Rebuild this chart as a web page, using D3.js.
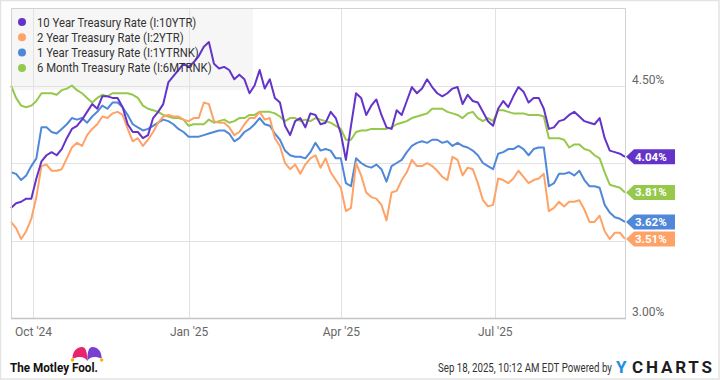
<!DOCTYPE html>
<html><head><meta charset="utf-8">
<script src="https://cdn.jsdelivr.net/npm/d3@7"></script>
<style>html,body{margin:0;padding:0;background:#fff;} svg{display:block;font-family:Roboto,"Noto Sans",sans-serif;}</style>
</head><body><svg id="c" width="720" height="380"></svg>
<script>
// ---------- data ----------
const startDate = "2024-09-18";
const endDate = "2025-09-16";
const stepDays = 3;
const seriesNames = ["10 Year Treasury Rate (I:10YTR)", "2 Year Treasury Rate (I:2YTR)", "1 Year Treasury Rate (I:1YTRNK)", "6 Month Treasury Rate (I:6MTRNK)"];
const tenYear = [3.71,3.74,3.75,3.77,3.77,3.90,4.01,4.05,4.07,4.05,4.09,4.16,4.22,4.24,4.28,4.33,4.38,4.35,4.43,4.43,4.42,4.42,4.36,4.25,4.20,4.20,4.16,4.18,4.29,4.33,4.38,4.52,4.56,4.60,4.64,4.62,4.65,4.69,4.75,4.78,4.64,4.61,4.62,4.60,4.54,4.57,4.54,4.45,4.50,4.60,4.48,4.54,4.42,4.39,4.24,4.18,4.27,4.29,4.23,4.32,4.31,4.25,4.26,4.33,4.29,4.19,4.02,4.24,4.45,4.42,4.31,4.37,4.41,4.31,4.23,4.22,4.34,4.31,4.40,4.49,4.45,4.48,4.54,4.49,4.45,4.43,4.45,4.48,4.49,4.38,4.44,4.40,4.39,4.33,4.27,4.24,4.35,4.40,4.36,4.43,4.49,4.46,4.39,4.42,4.42,4.35,4.22,4.23,4.27,4.28,4.31,4.33,4.30,4.27,4.26,4.25,4.29,4.16,4.08,4.07,4.06,4.04];
const twoYear = [3.62,3.58,3.51,3.56,3.64,3.78,3.98,3.99,3.95,3.95,3.96,4.03,4.10,4.13,4.11,4.18,4.22,4.25,4.30,4.29,4.32,4.33,4.31,4.22,4.14,4.16,4.11,4.15,4.20,4.26,4.30,4.31,4.30,4.30,4.28,4.27,4.29,4.29,4.39,4.38,4.27,4.26,4.26,4.23,4.18,4.20,4.25,4.29,4.29,4.33,4.28,4.29,4.16,4.11,4.00,3.96,3.99,3.93,3.99,4.03,4.05,3.97,4.03,3.94,3.89,3.84,3.69,3.71,4.00,3.92,3.81,3.78,3.77,3.73,3.63,3.81,3.82,3.89,3.94,4.02,3.98,3.98,4.00,3.98,3.95,3.91,3.89,4.04,4.02,3.92,3.97,3.96,3.87,3.76,3.72,3.73,3.90,3.89,3.87,3.90,3.95,3.91,3.87,3.89,3.90,3.93,3.69,3.71,3.75,3.72,3.75,3.75,3.76,3.70,3.62,3.62,3.66,3.56,3.51,3.55,3.55,3.51];
const oneYear = [3.94,3.93,3.89,3.92,3.98,4.03,4.23,4.23,4.20,4.19,4.22,4.25,4.29,4.28,4.29,4.26,4.30,4.33,4.37,4.35,4.39,4.39,4.36,4.31,4.25,4.23,4.21,4.22,4.24,4.26,4.28,4.27,4.25,4.22,4.20,4.17,4.17,4.17,4.18,4.19,4.20,4.21,4.21,4.19,4.14,4.16,4.20,4.22,4.25,4.29,4.25,4.24,4.19,4.15,4.08,4.05,4.04,4.04,4.03,4.07,4.13,4.08,4.09,4.08,4.03,4.03,3.87,3.85,4.03,4.00,3.98,3.97,3.99,3.96,3.88,3.98,4.00,4.02,4.07,4.11,4.13,4.14,4.13,4.15,4.15,4.13,4.14,4.11,4.13,4.11,4.10,4.08,4.05,4.00,3.98,3.96,4.06,4.07,4.09,4.09,4.11,4.09,4.05,4.09,4.10,4.10,3.85,3.87,3.93,3.93,3.94,3.92,3.95,3.89,3.85,3.85,3.84,3.73,3.68,3.65,3.64,3.62];
const sixMonth = [4.50,4.42,4.37,4.36,4.37,4.40,4.45,4.45,4.45,4.44,4.47,4.48,4.50,4.47,4.45,4.42,4.39,4.42,4.44,4.43,4.45,4.45,4.45,4.45,4.44,4.42,4.37,4.35,4.34,4.33,4.31,4.30,4.29,4.29,4.28,4.24,4.25,4.25,4.25,4.28,4.26,4.27,4.28,4.26,4.27,4.29,4.29,4.31,4.31,4.33,4.33,4.33,4.32,4.30,4.27,4.29,4.29,4.27,4.28,4.27,4.29,4.28,4.27,4.26,4.24,4.22,4.15,4.15,4.20,4.21,4.21,4.22,4.22,4.22,4.22,4.23,4.25,4.26,4.27,4.29,4.30,4.31,4.32,4.35,4.35,4.35,4.33,4.32,4.31,4.29,4.32,4.33,4.29,4.27,4.29,4.27,4.34,4.34,4.33,4.32,4.32,4.32,4.31,4.31,4.31,4.30,4.16,4.16,4.16,4.15,4.10,4.12,4.12,4.09,4.08,4.05,4.03,3.94,3.86,3.85,3.84,3.81];
const monthTicks = ["2024-10-01", "2025-01-01", "2025-04-01", "2025-07-01"];
const gridValues = [3.0, 3.5, 4.0, 4.5];
const labelValues = [4.5, 3.0];
const yDomain = [3.0, 5.0];
const footerStamp = "Sep 18, 2025, 10:12 AM EDT Powered by";
const brandFool = "The Motley Fool.";
const brandY = "Y";
const brandCharts = "CHARTS";

// ---------- styles ----------
const colors = ["#6434c9", "#ffa267", "#4f88d9", "#95c84b"];
const W = 720, H = 380;
const plot = {left: 11, right: 625, top: 8, bottom: 318};

const parse = d3.timeParse("%Y-%m-%d");
const start = parse(startDate), end = parse(endDate);
const allSeries = [tenYear, twoYear, oneYear, sixMonth].map((vals, k) => ({
  name: seriesNames[k], color: colors[k],
  points: vals.map((v, i) => ({date: d3.timeDay.offset(start, i * stepDays), value: v}))
}));

const x = d3.scaleTime().domain([start, end]).range([plot.left, plot.right]);
const y = d3.scaleLinear().domain(yDomain).range([plot.bottom, plot.top]);

const svg = d3.select("#c");
svg.append("rect").attr("x", 0.5).attr("y", 0.5).attr("width", W - 1.5).attr("height", H - 1.5)
  .attr("fill", "#fff").attr("stroke", "#e3e3e3").attr("stroke-width", 1.5);

// legend background (behind lines)
svg.append("rect").attr("x", plot.left).attr("y", plot.top).attr("width", 242).attr("height", 82).attr("fill", "#f6f6f6");

// gridlines
const grid = svg.append("g").attr("stroke", "#e2e2e2").attr("stroke-width", 1);
grid.selectAll("line.h").data(gridValues).join("line")
  .attr("x1", plot.left).attr("x2", plot.right)
  .attr("y1", d => Math.round(y(d)) + 0.5).attr("y2", d => Math.round(y(d)) + 0.5);
grid.selectAll("line.v").data(monthTicks.map(parse)).join("line")
  .attr("x1", d => Math.round(x(d)) + 0.5).attr("x2", d => Math.round(x(d)) + 0.5)
  .attr("y1", plot.top).attr("y2", plot.bottom);

// lines
const line = d3.line().x(d => x(d.date)).y(d => y(d.value));
svg.append("g").selectAll("path").data(allSeries.slice().reverse()).join("path")
  .attr("d", d => line(d.points)).attr("fill", "none")
  .attr("stroke", d => d.color).attr("stroke-width", 2).attr("stroke-linejoin", "round");

// plot frame
const frame = svg.append("g").attr("fill", "none");
frame.append("path").attr("d", `M${plot.left + 0.5},${plot.bottom}V${plot.top + 0.5}H${plot.right + 0.5}V${plot.bottom}`)
  .attr("stroke", "#d2d2d2");
frame.append("line").attr("x1", plot.left).attr("x2", plot.right + 1).attr("y1", plot.bottom + 0.5).attr("y2", plot.bottom + 0.5)
  .attr("stroke", "#c4c4c4").attr("stroke-width", 1.5);

// x axis
const xAxis = svg.append("g").attr("transform", `translate(0,${plot.bottom})`)
  .call(d3.axisBottom(x).tickValues(monthTicks.map(parse)).tickFormat(d3.timeFormat("%b '%y")).tickSize(0).tickPadding(9));
xAxis.select(".domain").remove();
xAxis.selectAll("text").attr("fill", "#666").attr("font-size", 12).attr("font-family", "Roboto");

// y axis (right)
const yAxis = svg.append("g").attr("transform", `translate(${plot.right + 7},0)`)
  .call(d3.axisRight(y).tickValues(labelValues).tickFormat(d => d.toFixed(2) + "%").tickSize(0).tickPadding(0));
yAxis.select(".domain").remove();
yAxis.selectAll("text").attr("fill", "#666").attr("font-size", 12).attr("font-family", "Roboto").attr("dy", "-0.2em");

// helper: horizontally condense a text to a target width via transform
function condensed(parent, tx, ty, target, attrs, str) {
  const g = parent.append("g");
  const t = g.append("text").attr("x", 0).attr("y", 0).text(str);
  Object.entries(attrs).forEach(([k, v]) => t.attr(k, v));
  const w = t.node().getComputedTextLength();
  g.attr("transform", `translate(${tx},${ty}) scale(${target / w},1)`);
  return t;
}

// legend
const leg = svg.append("g");
allSeries.forEach((s, i) => {
  const cy = 22 + i * 15.3;
  leg.append("circle").attr("cx", 22).attr("cy", cy).attr("r", 4).attr("fill", s.color);
  const g = leg.append("g");
  const t = g.append("text").attr("font-size", 13).attr("fill", "#333").text(s.name);
  const w = t.node().getComputedTextLength();
  g.attr("transform", `translate(37,${cy + 4.5}) scale(0.87,1)`);
});

// end labels
const tags = svg.append("g");
allSeries.forEach(s => {
  const last = s.points[s.points.length - 1];
  const cy = y(last.value), x0 = x(last.date) + 1;
  tags.append("path").attr("d", `M${x0},${cy}L${x0 + 8},${cy - 7.5}H${x0 + 49}V${cy + 7.5}H${x0 + 8}Z`).attr("fill", s.color);
  tags.append("text").attr("x", x0 + 9).attr("y", cy + 4).attr("font-size", 11.5).attr("font-weight", "bold")
    .attr("fill", "#fff").text(last.value.toFixed(2) + "%");
});

// footer
condensed(svg, 438, 371.5, 174, {"font-size": 12, "fill": "#333"}, footerStamp);
svg.append("text").attr("x", 616).attr("y", 373).attr("font-size", 17).attr("font-weight", "bold")
  .attr("fill", "#1b8fe6").text(brandY);
const ch = svg.append("text").attr("x", 632).attr("y", 373).attr("font-size", 17).attr("font-weight", "bold")
  .attr("fill", "#1d1d1f").text(brandCharts);
const chW = ch.node().getComputedTextLength();
ch.attr("letter-spacing", ((80 - chW) / (brandCharts.length - 1)).toFixed(2));

const mf = svg.append("g");
condensed(mf, 10, 372, 88, {"font-size": 13.5, "font-weight": "bold", "fill": "#111"}, brandFool);
mf.append("path").attr("d", "M72.5,358.5 C72.5,351 77,347 82,347 C85.5,347 87.3,351 87.3,361 C85,357 80,355.5 72.5,358.5Z").attr("fill", "#e8246f");
mf.append("path").attr("d", "M87.3,361 C87.3,351 89,347 92.5,347 C97.5,347 101.7,351 101.7,358.5 C94.5,355.5 89.5,357 87.3,361Z").attr("fill", "#7a3fd2");
mf.append("circle").attr("cx", 72.5).attr("cy", 360).attr("r", 1.7).attr("fill", "#f6b400");
mf.append("circle").attr("cx", 101.7).attr("cy", 360).attr("r", 1.7).attr("fill", "#f6b400");
</script></body></html>
